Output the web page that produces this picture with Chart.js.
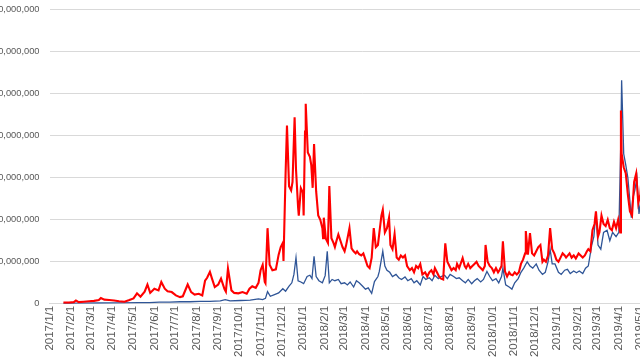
<!DOCTYPE html>
<html>
<head>
<meta charset="utf-8">
<script src="https://cdn.jsdelivr.net/npm/chart.js@4"></script>
<style>
  html, body { margin: 0; padding: 0; background: #ffffff; overflow: hidden; }
  #wrap { position: absolute; left: -17px; top: -6px; width: 694px; height: 366px; }
</style>
</head>
<body>
<div id="wrap"><canvas id="chart" width="694" height="366"></canvas></div>
<script>
// day offsets from 2017/1/1, values in millions
const redDays = [
  20, 28, 35, 38, 42, 49, 57, 64, 71, 74,
  79, 86, 93, 100, 108, 115, 121, 126, 131, 137,
  141, 145, 151, 157, 161, 166, 170, 176, 182, 188,
  192, 199, 204, 209, 215, 220, 224, 227, 231, 234,
  238, 243, 247, 252, 254, 257, 262, 266, 272, 278,
  284, 288, 292, 297, 301, 304, 307, 310, 311, 314,
  317, 321, 326, 330, 333, 336, 337, 340, 342, 345,
  348, 350, 353, 355, 358, 359, 362, 365, 366, 368,
  369, 372, 375, 377, 379, 381, 384, 387, 390, 393,
  394, 395, 398, 401, 403, 406, 409, 411, 413, 416,
  419, 422, 425, 427, 432, 435, 438, 441, 443, 446,
  449, 452, 455, 458, 461, 464, 467, 470, 473, 475,
  478, 480, 483, 486, 489, 491, 494, 497, 500, 503,
  506, 509, 512, 515, 519, 522, 525, 528, 531, 534,
  537, 541, 544, 547, 550, 553, 555, 558, 561, 564,
  567, 570, 573, 576, 579, 582, 585, 587, 590, 595,
  598, 600, 603, 606, 609, 612, 615, 618, 621, 624,
  627, 628, 631, 634, 637, 640, 643, 646, 648, 651,
  653, 656, 659, 662, 664, 667, 670, 673, 676, 679,
  682, 685, 686, 689, 692, 695, 698, 701, 704, 707,
  710, 712, 715, 718, 721, 724, 727, 730, 733, 736,
  739, 742, 744, 749, 752, 755, 758, 762, 765, 768,
  771, 774, 776, 779, 782, 785, 787, 790, 792, 795,
  798, 801, 804, 807, 810, 813, 816, 819, 822, 823,
  824, 827, 830, 833, 836, 839, 842, 845, 848, 851, 854, 856
];
const redValues = [
  0.3, 0.3, 0.4, 0.8, 0.4, 0.5, 0.6, 0.7, 0.9, 1.4,
  1.0, 0.9, 0.8, 0.6, 0.5, 0.9, 1.3, 2.5, 1.7, 2.9,
  4.6, 2.6, 3.6, 3.2, 5.2, 3.6, 3.0, 2.8, 2.0, 1.6,
  1.8, 4.6, 2.8, 2.2, 2.4, 2.0, 5.5, 6.2, 7.6, 6.0,
  4.0, 4.6, 6.0, 3.5, 2.9, 8.4, 3.2, 2.6, 2.5, 2.8,
  2.4, 3.6, 4.2, 3.8, 5.0, 8.0, 9.3, 5.2, 4.9, 18.0,
  9.3, 8.0, 8.2, 11.7, 13.5, 14.5, 10.2, 31, 42.4, 28,
  27, 29, 44.4, 32, 23, 21, 27.5, 26.5, 21, 41,
  47.6, 36, 35, 33, 27.6, 38, 26.8, 21, 20, 18,
  15.6, 20.5, 15.5, 14.5, 28, 15.6, 14.5, 13.5, 14.8, 16.5,
  15, 13.5, 12.5, 13.8, 18, 13.2, 12.5, 12.0, 12.5, 11.8,
  11.5, 12, 10.5, 9.0, 8.5, 11, 18, 13.5, 14, 16.8,
  21, 22.4, 17, 18, 20.5, 14, 13, 16.6, 11, 10.5,
  11.5, 11, 11.5, 9, 8, 8.5, 7.5, 9, 8.5, 9.5,
  7, 7.5, 6.5, 7.5, 8, 7, 8.5, 7.5, 6.5, 6,
  5.8, 14.4, 10, 9, 8, 8.5, 8, 9.5, 8.5, 10.9,
  9, 8.5, 9.5, 8.5, 9, 9.5, 10, 9, 8.5, 8,
  9, 14, 10, 9, 8.5, 7.5, 8.5, 7.5, 8, 9,
  14.9, 7.7, 6.5, 7.5, 7, 6.8, 7.5, 7, 7.5, 9.5,
  10.5, 12, 17.3, 11.7, 16.8, 12, 11.5, 12.5, 13.5, 14,
  10, 10.5, 10, 11.5, 18, 13, 12, 10.5, 10, 11,
  12, 11.5, 11, 12, 11, 11.5, 10.8, 12, 11.5, 11,
  11.5, 12.5, 13, 12.5, 17.5, 19, 22, 16, 17, 21,
  19, 18.5, 20, 18, 17.5, 19.5, 18, 20, 17, 46,
  35.7, 32.5, 31, 26, 22, 21, 29, 31, 24, 26, 33, 37
];

const blueDays = [
  20, 42, 71, 100, 129, 144, 158, 173, 188, 202,
  217, 231, 246, 253, 260, 275, 289, 301, 307, 311,
  314, 318, 324, 330, 336, 340, 345, 349, 352, 355,
  358, 362, 366, 371, 375, 378, 381, 384, 388, 393,
  397, 400, 403, 407, 411, 416, 420, 425, 429, 433,
  438, 442, 446, 451, 455, 459, 464, 468, 473, 475,
  480, 483, 486, 490, 494, 499, 503, 507, 512, 516,
  521, 525, 529, 534, 538, 542, 547, 551, 555, 560,
  564, 569, 573, 577, 582, 586, 590, 595, 599, 603,
  608, 612, 616, 621, 625, 630, 634, 638, 643, 647,
  651, 653, 657, 662, 666, 670, 675, 679, 683, 688,
  692, 696, 701, 705, 710, 714, 718, 721, 724, 728,
  733, 737, 742, 746, 750, 755, 759, 763, 768, 772,
  776, 781, 784, 787, 790, 794, 798, 803, 807, 811,
  816, 820, 823, 824, 827, 830, 833, 838, 840, 843,
  846, 849, 852, 855, 858
];
const blueValues = [
  0.1, 0.15, 0.2, 0.25, 0.3, 0.3, 0.4, 0.4, 0.5, 0.5,
  0.6, 0.6, 0.7, 1.0, 0.7, 0.8, 0.9, 1.2, 1.0, 1.3,
  2.9, 1.8, 2.2, 2.6, 3.6, 3.0, 4.2, 5.0, 7, 11,
  5.5, 5.2, 4.8, 6.5, 6.8, 6, 11.3, 6.5, 5.5, 5,
  6.7, 12.5, 5, 5.8, 5.5, 5.8, 4.8, 5, 4.5, 5.2,
  4.0, 5.5, 5.0, 4.2, 3.5, 3.8, 2.5, 5.3, 6.5, 7.7,
  12.5, 9, 8, 7.5, 6.5, 7, 6.2, 5.8, 6.4, 5.5,
  6, 5, 5.5, 4.5, 6.5, 5.8, 6.2, 5.5, 6.8, 6.0,
  6.5, 6.8, 6.0, 7.0, 6.5, 6.0, 6.2, 5.5, 5, 5.8,
  4.8, 5.5, 6, 5.2, 5.8, 7.7, 6.5, 5.5, 6, 5,
  6.5, 8.5, 4.5, 4, 3.5, 5, 6, 7.5, 8.5, 10,
  9, 8.5, 9.5, 8, 7, 7.5, 10, 13, 9.5, 9.5,
  7.5, 7, 8, 8.2, 7.2, 7.8, 7.4, 7.8, 7.2, 8.5,
  9, 14, 16, 21.7, 14, 13, 17, 17.5, 15, 17,
  16, 17, 40, 53.2, 35.7, 33, 30, 20.5, 25, 27,
  30, 21.4, 25, 27, 28
];

// month tick positions (days from 2017/1/1) and their labels
const monthDays = [0, 31, 59, 90, 120, 151, 181, 212, 243, 273, 304, 334,
  365, 396, 424, 455, 485, 516, 546, 577, 608, 638, 669, 699,
  730, 761, 789, 820, 850, 881];
const monthLabels = ['2017/1/1', '2017/2/1', '2017/3/1', '2017/4/1', '2017/5/1', '2017/6/1',
  '2017/7/1', '2017/8/1', '2017/9/1', '2017/10/1', '2017/11/1', '2017/12/1',
  '2018/1/1', '2018/2/1', '2018/3/1', '2018/4/1', '2018/5/1', '2018/6/1',
  '2018/7/1', '2018/8/1', '2018/9/1', '2018/10/1', '2018/11/1', '2018/12/1',
  '2019/1/1', '2019/2/1', '2019/3/1', '2019/4/1', '2019/5/1', '2019/6/1'];

function toPoints(days, values) {
  return days.map((d, i) => ({ x: d, y: values[i] }));
}

const ctx = document.getElementById('chart').getContext('2d');
new Chart(ctx, {
  type: 'line',
  data: {
    datasets: [
      {
        label: 'red',
        data: toPoints(redDays, redValues),
        borderColor: '#ff0000',
        borderWidth: 2.1,
        pointRadius: 0,
        tension: 0
      },
      {
        label: 'blue',
        data: toPoints(blueDays, blueValues),
        borderColor: '#2f5597',
        borderWidth: 1.3,
        pointRadius: 0,
        tension: 0
      }
    ]
  },
  options: {
    responsive: false,
    devicePixelRatio: 1,
    animation: false,
    layout: { padding: { top: 0, right: 0, bottom: 1, left: 0 } },
    plugins: {
      legend: { display: false },
      tooltip: { enabled: false }
    },
    scales: {
      x: {
        type: 'linear',
        min: 0,
        max: 900,
        afterBuildTicks: function(axis) {
          axis.ticks = monthDays.map(v => ({ value: v }));
        },
        ticks: {
          autoSkip: false,
          maxRotation: 90,
          minRotation: 90,
          padding: 2,
          color: '#595959',
          font: { family: 'Liberation Sans, Arial, sans-serif', size: 11.5 },
          callback: function(value) {
            const i = monthDays.indexOf(value);
            return i >= 0 ? monthLabels[i] : '';
          }
        },
        grid: { display: false, drawTicks: false },
        border: { display: true, color: '#d9d9d9', width: 1 }
      },
      y: {
        min: 0,
        max: 70,
        ticks: {
          stepSize: 10,
          padding: 10,
          color: '#595959',
          font: { family: 'Liberation Sans, Arial, sans-serif', size: 9.3 },
          callback: function(value) {
            return (value * 1000000).toLocaleString('en-US');
          }
        },
        grid: { color: '#d9d9d9', drawTicks: false },
        border: { display: false }
      }
    }
  }
});
</script>
</body>
</html>
